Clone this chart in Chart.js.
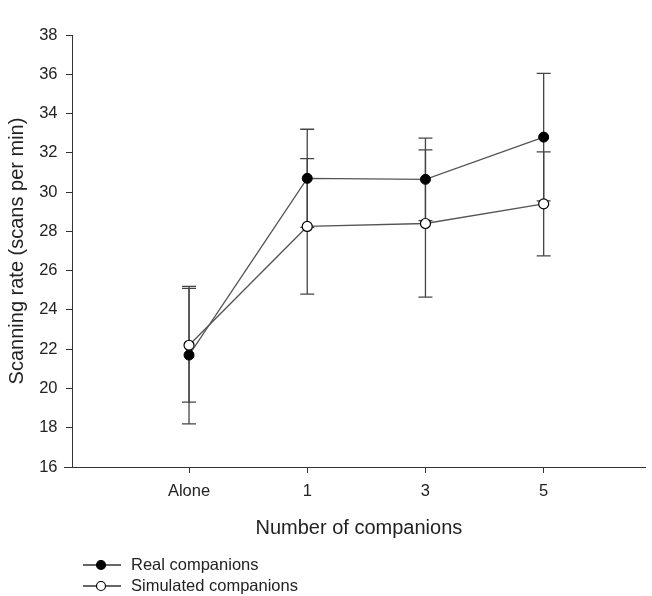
<!DOCTYPE html>
<html>
<head>
<meta charset="utf-8">
<script src="https://cdn.jsdelivr.net/npm/chart.js@4.4.1/dist/chart.umd.min.js"></script>
<style>
  html, body { margin: 0; padding: 0; background: #fff; }
  #wrap { width: 652px; height: 596px; position: relative; }
</style>
</head>
<body>
<div id="wrap"><canvas id="c" width="652" height="596"></canvas></div>
<script>
// ---- Data ----
const categories = ['Alone', '1', '3', '5'];
const realMean = [21.7, 30.7, 30.65, 32.8];
const realErr  = [3.5, 2.5, 2.1, 3.25];
const simMean  = [22.2, 28.25, 28.4, 29.4];
const simErr   = [2.9, 3.45, 3.75, 2.65];
const yTicks   = [16, 18, 20, 22, 24, 26, 28, 30, 32, 34, 36, 38];
const seriesNames = ['Real companions', 'Simulated companions'];

const FONT = '"Liberation Sans", Arial, Helvetica, sans-serif';
const TXT = '#222';

const toPoints = arr => arr.map((v, i) => ({ x: i, y: v }));

const errorBars = {
  id: 'errorBars',
  beforeDatasetsDraw(chart) {
    const { ctx, scales: { x, y } } = chart;
    const sets = [[realMean, realErr], [simMean, simErr]];
    ctx.save();
    ctx.strokeStyle = '#444';
    ctx.lineWidth = 1.3;
    sets.forEach(([m, e]) => {
      m.forEach((v, i) => {
        const px = x.getPixelForValue(i);
        const top = y.getPixelForValue(v + e[i]);
        const bot = y.getPixelForValue(v - e[i]);
        ctx.beginPath();
        ctx.moveTo(px, top); ctx.lineTo(px, bot);
        ctx.moveTo(px - 7, top); ctx.lineTo(px + 7, top);
        ctx.moveTo(px - 7, bot); ctx.lineTo(px + 7, bot);
        ctx.stroke();
      });
    });
    ctx.restore();
  }
};

const extras = {
  id: 'extras',
  afterDraw(chart) {
    const { ctx, chartArea } = chart;
    ctx.save();
    // x-axis line extends slightly left of y-axis
    ctx.strokeStyle = '#333';
    ctx.lineWidth = 1;
    ctx.beginPath();
    ctx.moveTo(chartArea.left - 8, chartArea.bottom + 0.5);
    ctx.lineTo(chartArea.left, chartArea.bottom + 0.5);
    ctx.stroke();
    // legend
    const rows = [
      { y: 565, fill: '#000', name: seriesNames[0] },
      { y: 586, fill: '#fff', name: seriesNames[1] }
    ];
    rows.forEach(r => {
      ctx.strokeStyle = '#333';
      ctx.lineWidth = 1.3;
      ctx.beginPath();
      ctx.moveTo(83, r.y); ctx.lineTo(121, r.y);
      ctx.stroke();
      ctx.beginPath();
      ctx.arc(101, r.y, 4.5, 0, Math.PI * 2);
      ctx.fillStyle = r.fill;
      ctx.fill();
      ctx.strokeStyle = '#000';
      ctx.lineWidth = 1.2;
      ctx.stroke();
      ctx.fillStyle = TXT;
      ctx.font = '16.5px ' + FONT;
      ctx.textBaseline = 'middle';
      ctx.textAlign = 'left';
      ctx.fillText(r.name, 131, r.y);
    });
    ctx.restore();
  }
};

new Chart(document.getElementById('c'), {
  type: 'line',
  data: {
    datasets: [
      {
        label: seriesNames[0],
        data: toPoints(realMean),
        borderColor: '#555',
        borderWidth: 1.3,
        pointRadius: 5,
        pointBackgroundColor: '#000',
        pointBorderColor: '#000',
        pointBorderWidth: 1,
        fill: false,
        tension: 0
      },
      {
        label: seriesNames[1],
        data: toPoints(simMean),
        borderColor: '#555',
        borderWidth: 1.3,
        pointRadius: 5,
        pointBackgroundColor: '#fff',
        pointBorderColor: '#000',
        pointBorderWidth: 1.2,
        fill: false,
        tension: 0
      }
    ]
  },
  options: {
    responsive: false,
    animation: false,
    layout: { padding: { top: 35, right: 2, bottom: 56, left: 0 } },
    plugins: { legend: { display: false }, tooltip: { enabled: false } },
    scales: {
      x: {
        type: 'linear',
        min: -0.99,
        max: 3.864,
        afterBuildTicks: s => { s.ticks = categories.map((c, i) => ({ value: i })); },
        afterFit: s => { s.height = 73; },
        grid: { drawOnChartArea: false, drawTicks: true, tickLength: 6, color: '#333' },
        border: { display: true, color: '#333', width: 1 },
        ticks: {
          callback: v => categories[v],
          font: { family: FONT, size: 16.5 },
          color: TXT,
          padding: 8.5,
          maxRotation: 0,
          autoSkip: false
        },
        title: {
          display: true,
          text: 'Number of companions',
          font: { family: FONT, size: 20 },
          color: TXT,
          padding: { top: 14.6, bottom: 0 }
        }
      },
      y: {
        min: 16,
        max: 38,
        afterBuildTicks: s => { s.ticks = yTicks.map(v => ({ value: v })); },
        afterFit: s => { s.width = 72; },
        grid: { drawOnChartArea: false, drawTicks: true, tickLength: 6, color: '#333' },
        border: { display: true, color: '#333', width: 1 },
        ticks: {
          font: { family: FONT, size: 16.5 },
          color: TXT,
          padding: 8.5
        },
        title: {
          display: true,
          text: 'Scanning rate (scans per min)',
          font: { family: FONT, size: 20 },
          color: TXT,
          padding: { top: 5, bottom: 0 }
        }
      }
    }
  },
  plugins: [errorBars, extras]
});
</script>
</body>
</html>
